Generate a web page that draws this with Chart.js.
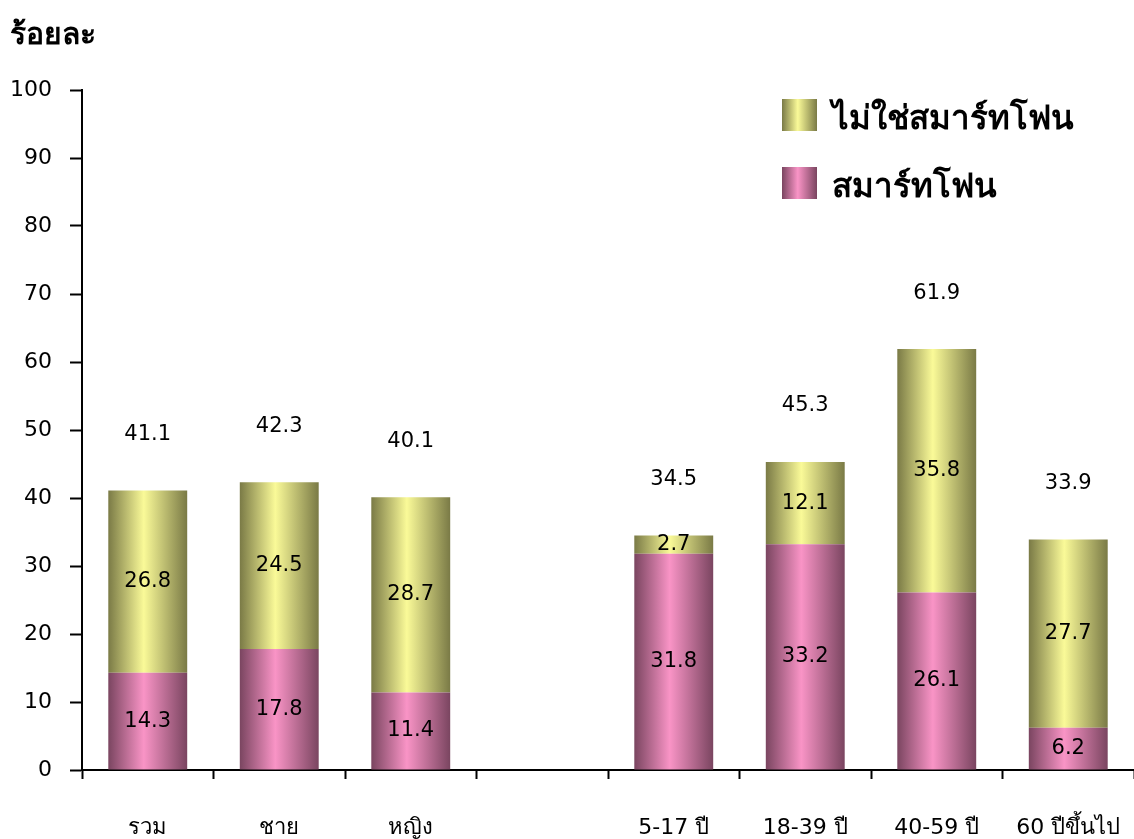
<!DOCTYPE html>
<html>
<head>
<meta charset="utf-8">
<script src="https://cdn.jsdelivr.net/npm/chart.js@4.4.1/dist/chart.umd.min.js"></script>
<style>
  html, body { margin: 0; padding: 0; background: #fff; }
  #wrap { width: 1134px; height: 839px; }
</style>
</head>
<body>
<div id="wrap"><canvas id="grafico"></canvas></div>
<script>
// dados do grafico
let categorias = ['รวม', 'ชาย', 'หญิง', '', '5-17 ปี', '18-39 ปี', '40-59 ปี', '60 ปีขึ้นไป'];
let smartphone = [14.3, 17.8, 11.4, null, 31.8, 33.2, 26.1, 6.2];
let naoSmartphone = [26.8, 24.5, 28.7, null, 2.7, 12.1, 35.8, 27.7];
let totais = [41.1, 42.3, 40.1, null, 34.5, 45.3, 61.9, 33.9];
let ticksY = [0, 10, 20, 30, 40, 50, 60, 70, 80, 90, 100];
let nomeSmart = 'สมาร์ทโฟน';
let nomeNaoSmart = 'ไม่ใช่สมาร์ทโฟน';
let tituloY = 'ร้อยละ';

let fonte = 'Tahoma, "DejaVu Sans", sans-serif';

// cores do gradiente (escuro nas bordas, claro no meio)
let coresRosa = ['#7a4560', '#f994c6', '#7a4560'];
let coresAmarelo = ['#7a7a46', '#fafa98', '#7a7a46'];

function gradiente(ctx, x0, x1, cores){
    let g = ctx.createLinearGradient(x0, 0, x1, 0);
    g.addColorStop(0, cores[0]);
    g.addColorStop(0.45, cores[1]);
    g.addColorStop(1, cores[2]);
    return g;
}

// pinta cada barra com o gradiente horizontal
let pluginGradiente = {
    id: 'gradienteBarras',
    beforeDatasetsDraw(chart){
        let ctx = chart.ctx;
        chart.data.datasets.forEach((ds, i) => {
            let meta = chart.getDatasetMeta(i);
            meta.data.forEach(el => {
                let x0 = el.x - el.width / 2;
                let x1 = el.x + el.width / 2;
                el.options.backgroundColor = gradiente(ctx, x0, x1, ds.cores);
            });
        });
    },
    afterDraw(chart){
        let ctx = chart.ctx;
        ctx.save();
        ctx.fillStyle = '#000';
        ctx.textAlign = 'center';
        ctx.textBaseline = 'middle';
        ctx.font = '21px ' + fonte;

        // valores dentro das barras
        chart.data.datasets.forEach((ds, i) => {
            let meta = chart.getDatasetMeta(i);
            meta.data.forEach((el, j) => {
                if(ds.data[j] == null) return;
                ctx.fillText(ds.data[j].toFixed(1), el.x, (el.y + el.base) / 2);
            });
        });

        // totais acima das barras
        let escalaX = chart.scales.x;
        let escalaY = chart.scales.y;
        for(let count = 0; count < totais.length; count++){
            if(totais[count] == null) continue;
            let x = escalaX.getPixelForValue(count);
            let y = escalaY.getPixelForValue(totais[count]) - 56;
            ctx.fillText(totais[count].toFixed(1), x, y);
        }

        // titulo do eixo Y
        ctx.textAlign = 'left';
        ctx.font = 'bold 30px ' + fonte;
        ctx.fillText(tituloY, 10, 36);

        // legenda
        let itens = [
            {nome: nomeNaoSmart, cores: coresAmarelo, y: 99},
            {nome: nomeSmart, cores: coresRosa, y: 167}
        ];
        ctx.font = 'bold 33px ' + fonte;
        itens.forEach(item => {
            ctx.fillStyle = gradiente(ctx, 782, 817, item.cores);
            ctx.fillRect(782, item.y, 35, 32);
            ctx.fillStyle = '#000';
            ctx.fillText(item.nome, 832, item.y + 21);
        });
        ctx.restore();
    }
};

let ctx = document.getElementById('grafico').getContext('2d');

let meuGrafico = new Chart(ctx, {
    type: 'bar',
    data: {
        labels: categorias,
        datasets: [{
            label: nomeSmart,
            data: smartphone,
            cores: coresRosa,
            backgroundColor: () => '#f994c6',
            categoryPercentage: 1,
            barPercentage: 0.6
        }, {
            label: nomeNaoSmart,
            data: naoSmartphone,
            cores: coresAmarelo,
            backgroundColor: () => '#fafa98',
            categoryPercentage: 1,
            barPercentage: 0.6
        }]
    },
    options: {
        responsive: true,
        maintainAspectRatio: false,
        animation: false,
        layout: {padding: {top: 90, right: 0, left: 0, bottom: 0}},
        plugins: {
            legend: {display: false},
            tooltip: {enabled: false}
        },
        scales: {
            x: {
                stacked: true,
                offset: true,
                grid: {
                    offset: true,
                    drawOnChartArea: false,
                    drawTicks: true,
                    tickLength: 9,
                    tickWidth: 2,
                    tickColor: '#000'
                },
                border: {color: '#000', width: 2},
                ticks: {
                    color: '#000',
                    padding: 36,
                    maxRotation: 0,
                    autoSkip: false,
                    font: {family: fonte, size: 22}
                },
                afterFit(scale){
                    scale.height = 69;
                    scale.paddingLeft = 0;
                    scale.paddingRight = 0;
                }
            },
            y: {
                stacked: true,
                min: 0,
                max: 100,
                afterBuildTicks(scale){
                    scale.ticks = ticksY.map(v => ({value: v}));
                },
                grid: {
                    drawOnChartArea: false,
                    drawTicks: true,
                    tickLength: 12,
                    tickWidth: 2,
                    tickColor: '#000'
                },
                border: {color: '#000', width: 2},
                ticks: {
                    color: '#000',
                    padding: 18,
                    font: {family: fonte, size: 22}
                },
                afterFit(scale){ scale.width = 82; }
            }
        }
    },
    plugins: [pluginGradiente]
});
</script>
</body>
</html>
